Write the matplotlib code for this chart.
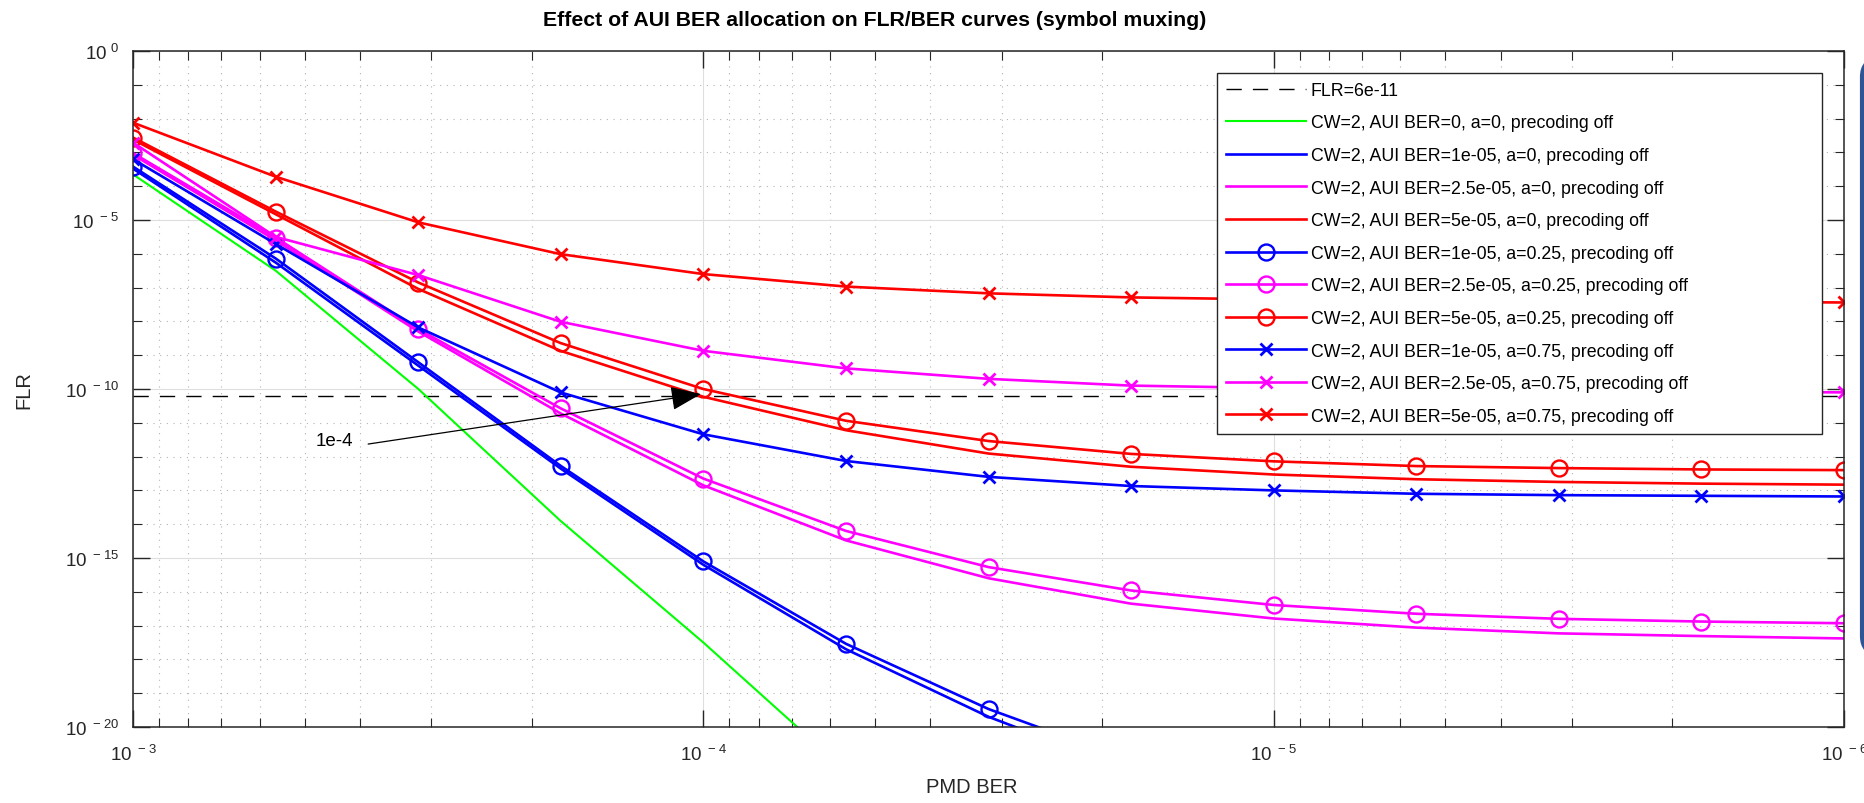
import numpy as np
import matplotlib
matplotlib.use("Agg")
import matplotlib.pyplot as plt
from matplotlib.ticker import FixedLocator, FuncFormatter, NullFormatter
from matplotlib.patches import FancyBboxPatch
from matplotlib.transforms import IdentityTransform
from matplotlib.lines import Line2D

# x axis: PMD BER sample points
pmd_ber = [1e-3, 5.62e-4, 3.16e-4, 1.78e-4, 1e-4, 5.62e-5, 3.16e-5,
           1.78e-5, 1e-5, 5.62e-6, 3.16e-6, 1.78e-6, 1e-6]

# log10(FLR)
log_flr_aui0 = [-3.65, -6.5, -10.0, -13.9, -17.5, -21.3]
log_flr_1e5_a0 = [-3.48, -6.26, -9.31, -12.35, -15.2, -17.7, -19.7, -21.3]
log_flr_25e5_a0 = [-3.07, -5.6, -8.3, -10.72, -12.85, -14.48, -15.6, -16.35,
                   -16.79, -17.06, -17.23, -17.31, -17.38]
log_flr_5e5_a0 = [-2.62, -4.83, -7.04, -8.87, -10.23, -11.22, -11.91, -12.30,
                  -12.53, -12.67, -12.75, -12.8, -12.83]
log_flr_1e5_a025 = [-3.42, -6.14, -9.21, -12.27, -15.1, -17.54, -19.47, -21.0]
log_flr_25e5_a025 = [-3.02, -5.52, -8.23, -10.57, -12.65, -14.2, -15.27, -15.96,
                     -16.39, -16.65, -16.8, -16.88, -16.93]
log_flr_5e5_a025 = [-2.56, -4.75, -6.85, -8.64, -10.0, -10.94, -11.54, -11.92,
                    -12.14, -12.28, -12.34, -12.38, -12.4]
log_flr_1e5_a075 = [-3.2, -5.71, -8.18, -10.1, -11.34, -12.13, -12.6, -12.87,
                    -13.0, -13.1, -13.14, -13.16, -13.18]
log_flr_25e5_a075 = [-2.71, -5.5, -6.63, -8.01, -8.87, -9.39, -9.70, -9.90,
                     -9.97, -10.02, -10.05, -10.08, -10.1]
log_flr_5e5_a075 = [-2.12, -3.72, -5.07, -6.01, -6.6, -6.97, -7.17, -7.29,
                    -7.35, -7.38, -7.4, -7.42, -7.44]

flr_target = 6e-11

series = [
    # (values, color, marker, label)
    (log_flr_aui0, "#00ff00", None, "CW=2, AUI BER=0, a=0, precoding off"),
    (log_flr_1e5_a0, "#0000ff", None, "CW=2, AUI BER=1e-05, a=0, precoding off"),
    (log_flr_25e5_a0, "#ff00ff", None, "CW=2, AUI BER=2.5e-05, a=0, precoding off"),
    (log_flr_5e5_a0, "#ff0000", None, "CW=2, AUI BER=5e-05, a=0, precoding off"),
    (log_flr_1e5_a025, "#0000ff", "o", "CW=2, AUI BER=1e-05, a=0.25, precoding off"),
    (log_flr_25e5_a025, "#ff00ff", "o", "CW=2, AUI BER=2.5e-05, a=0.25, precoding off"),
    (log_flr_5e5_a025, "#ff0000", "o", "CW=2, AUI BER=5e-05, a=0.25, precoding off"),
    (log_flr_1e5_a075, "#0000ff", "x", "CW=2, AUI BER=1e-05, a=0.75, precoding off"),
    (log_flr_25e5_a075, "#ff00ff", "x", "CW=2, AUI BER=2.5e-05, a=0.75, precoding off"),
    (log_flr_5e5_a075, "#ff0000", "x", "CW=2, AUI BER=5e-05, a=0.75, precoding off"),
]

plt.rcParams["font.family"] = ["Liberation Sans", "DejaVu Sans"]
plt.rcParams["mathtext.default"] = "regular"
dark = "#262626"

W, H = 1865, 804
fig = plt.figure(figsize=(W / 100, H / 100), dpi=100)
ax = fig.add_axes([133 / W, 76 / H, 1711 / W, 676 / H])
ax.set_xscale("log")
ax.set_yscale("log")

dash = (11, 8)
handles = []
ax.axhline(flr_target, color="black", lw=1.0, dashes=dash)
handles.append(Line2D([], [], color="black", lw=1.0, dashes=dash))
labels = ["FLR=6e-11"]

for vals, color, marker, label in series:
    x = pmd_ber[:len(vals)]
    y = 10.0 ** np.array(vals)
    if marker == "o":
        kw = dict(marker="o", markersize=11.5, markerfacecolor="none",
                  markeredgewidth=1.7)
    elif marker == "x":
        kw = dict(marker="x", markersize=8.5, markeredgewidth=2.0)
    else:
        kw = {}
    lw = 1.5 if color == "#00ff00" else 1.9
    line, = ax.plot(x, y, color=color, lw=lw, **kw)
    handles.append(line)
    labels.append(label)

ax.set_xlim(1e-3, 1e-6)
ax.set_ylim(1e-20, 1e0)

xmaj = [1e-3, 1e-4, 1e-5, 1e-6]
xmin = [m * 10.0 ** e for e in (-4, -5, -6) for m in range(2, 10)]
ymaj = [10.0 ** e for e in range(-20, 1, 5)]
ymin = [10.0 ** e for e in range(-20, 1) if e % 5 != 0]
ax.xaxis.set_major_locator(FixedLocator(xmaj))
ax.xaxis.set_minor_locator(FixedLocator(xmin))
ax.yaxis.set_major_locator(FixedLocator(ymaj))
ax.yaxis.set_minor_locator(FixedLocator(ymin))


def pow_label(v, pos):
    e = int(round(np.log10(v)))
    return r"$10^{\ %d}$" % e


ax.xaxis.set_major_formatter(FuncFormatter(pow_label))
ax.yaxis.set_major_formatter(FuncFormatter(pow_label))
ax.xaxis.set_minor_formatter(NullFormatter())
ax.yaxis.set_minor_formatter(NullFormatter())

ax.tick_params(which="both", direction="in", top=True, right=True,
               color=dark, labelcolor=dark, labelsize=13.5)
ax.tick_params(which="major", length=12.5, width=1.0)
ax.tick_params(which="minor", length=6.5, width=0.8)
ax.tick_params(axis="x", which="major", pad=12)
ax.tick_params(axis="y", which="major", pad=10)
for s in ax.spines.values():
    s.set_color(dark)
    s.set_linewidth(1.1)

ax.grid(which="major", color="#dedede", ls="-", lw=0.8)
ax.grid(which="minor", color="#b5b5b5", ls=(0, (1.0, 5.0)), lw=0.8)
ax.set_axisbelow(True)

ax.set_xlabel("PMD BER", fontsize=14.5, color=dark)
ax.set_ylabel("FLR", fontsize=14.5, color=dark)
ax.xaxis.set_label_coords(0.49, -0.074)
ax.yaxis.set_label_coords(-0.058, 0.5)

fig.text(875 / W, 1 - 21 / H,
         "Effect of AUI BER allocation on FLR/BER curves (symbol muxing)",
         ha="center", va="center", fontsize=15.3, fontweight="bold")

# annotation pointing at the 1e-4 crossing
ax.text(4.44e-4, 2.9e-12, "1e-4", fontsize=13.5, ha="center", va="center",
        color="black")
ax.annotate("", xy=(1.01e-4, 7.1e-11), xytext=(3.87e-4, 2.35e-12),
            arrowprops=dict(arrowstyle="-|>,head_length=1.9,head_width=0.75",
                            color="black", lw=0.9, shrinkA=0, shrinkB=0))

leg = ax.legend(handles, labels, loc="upper left",
                bbox_to_anchor=(1217 / W, 1 - 438 / H, 605 / W, 364 / H),
                bbox_transform=fig.transFigure, mode="expand",
                borderaxespad=0, fontsize=12.75, handlelength=4.5,
                handletextpad=0.3, labelspacing=0.88, borderpad=0.5,
                fancybox=False, framealpha=1, edgecolor=dark, numpoints=1)
leg.get_frame().set_linewidth(1.0)

# cropped blue panel border at the right edge of the screenshot
panel = FancyBboxPatch((1862, H - 655), 80, 595,
                       boxstyle="round,pad=0,rounding_size=18",
                       transform=IdentityTransform(), facecolor="white",
                       edgecolor="#2f5597", lw=3, clip_on=False)
fig.add_artist(panel)

fig.savefig("out.png", dpi=100)
